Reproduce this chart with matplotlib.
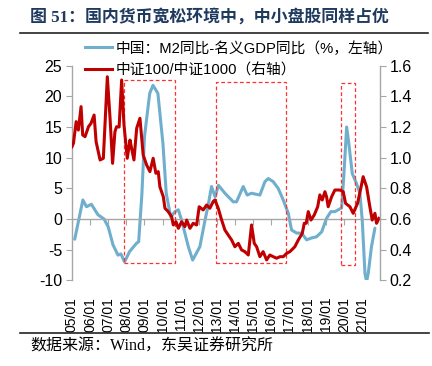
import matplotlib
matplotlib.use("Agg")
import matplotlib.pyplot as plt
from matplotlib.lines import Line2D
from matplotlib.patches import Rectangle

plt.rcParams['font.family'] = ['Liberation Sans', 'Noto Sans CJK SC']
plt.rcParams['axes.unicode_minus'] = False

# M2 yoy minus nominal GDP yoy (%), left axis
m2_gap_x = [2005.15, 2005.6, 2005.8, 2006.07, 2006.43, 2006.77, 2007.0, 2007.26, 2007.54, 2007.7,
            2007.9, 2008.18, 2008.55, 2008.68, 2008.86, 2009.0, 2009.29, 2009.47, 2009.74, 2010.02,
            2010.2, 2010.45, 2010.68, 2010.87, 2011.05, 2011.23, 2011.42, 2011.66, 2012.06, 2012.34,
            2012.5, 2012.7, 2012.9, 2013.08, 2013.44, 2013.9, 2014.08, 2014.45, 2014.67, 2014.91,
            2015.37, 2015.65, 2015.83, 2016.1, 2016.38, 2016.66, 2016.94, 2017.12, 2017.4, 2017.67,
            2017.95, 2018.22, 2018.5, 2018.78, 2019.05, 2019.29, 2019.51, 2019.88, 2020.0, 2020.16,
            2020.28, 2020.47, 2020.7, 2020.89, 2021.02, 2021.17, 2021.26, 2021.35, 2021.53, 2021.72]
m2_gap = [-3.3, 3.1, 2.0, 2.4, 0.7, 0.0, -1.3, -4.2, -5.9, -5.7,
          -7.0, -5.3, -4.0, -3.7, 4.2, 13.4, 20.5, 21.8, 20.5, 12.3,
          4.2, 0.3, 1.2, 1.5, -0.2, -2.3, -4.5, -6.7, -4.5, -0.2,
          2.0, 5.3, 3.6, 5.5, 4.2, 2.8, 2.8, 5.3, 3.9, 4.2,
          3.9, 6.1, 6.6, 6.1, 5.0, 3.1, 0.9, -1.8, -2.3, -2.3,
          -3.4, -3.1, -2.9, -2.1, 0.1, 1.2, 1.2, 1.8, 6.9, 15.0,
          12.3, 7.4, 5.8, 4.2, -0.2, -8.9, -10.2, -8.9, -4.5, -1.5]

# CSI100 / CSI1000, right axis
ratio_x = [2005.0, 2005.08, 2005.23, 2005.35, 2005.5, 2005.59, 2005.72, 2005.91, 2006.05, 2006.22,
           2006.33, 2006.55, 2006.73, 2006.95, 2007.1, 2007.24, 2007.37, 2007.46, 2007.6, 2007.74,
           2007.87, 2008.05, 2008.2, 2008.29, 2008.42, 2008.57, 2008.75, 2008.93, 2009.12, 2009.3,
           2009.48, 2009.63, 2009.76, 2009.85, 2010.04, 2010.13, 2010.31, 2010.5, 2010.59, 2010.74,
           2010.87, 2011.05, 2011.23, 2011.33, 2011.51, 2011.69, 2011.88, 2012.02, 2012.24, 2012.43,
           2012.61, 2012.79, 2012.89, 2013.07, 2013.26, 2013.44, 2013.62, 2013.81, 2013.99, 2014.18,
           2014.36, 2014.54, 2014.73, 2014.91, 2015.06, 2015.19, 2015.37, 2015.55, 2015.74, 2015.92,
           2016.11, 2016.29, 2016.48, 2016.66, 2016.85, 2017.03, 2017.3, 2017.49, 2017.71, 2017.82,
           2017.93, 2018.04, 2018.19, 2018.37, 2018.56, 2018.68, 2018.81, 2018.96, 2019.05, 2019.14,
           2019.33, 2019.51, 2019.79, 2019.97, 2020.1, 2020.34, 2020.52, 2020.76, 2020.94, 2021.07,
           2021.26, 2021.44, 2021.57, 2021.72, 2021.81, 2021.94]
ratio = [1.072, 1.094, 1.235, 1.18, 1.333, 1.148, 1.137, 1.202, 1.224, 1.278,
         1.104, 0.985, 0.996, 1.528, 1.257, 0.963, 1.17, 1.202, 1.2, 1.507,
         1.213, 0.996, 1.115, 1.061, 0.985, 1.192, 1.257, 1.017, 0.952, 0.909,
         0.996, 0.898, 0.909, 0.81, 0.745, 0.67, 0.648, 0.615, 0.561, 0.582,
         0.539, 0.582, 0.55, 0.593, 0.539, 0.572, 0.561, 0.68, 0.659, 0.691,
         0.67, 0.713, 0.724, 0.67, 0.593, 0.528, 0.496, 0.463, 0.419, 0.441,
         0.398, 0.387, 0.365, 0.561, 0.441, 0.419, 0.354, 0.387, 0.333, 0.365,
         0.354, 0.344, 0.354, 0.354, 0.376, 0.387, 0.419, 0.463, 0.507, 0.572,
         0.572, 0.648, 0.593, 0.626, 0.68, 0.757, 0.724, 0.778, 0.745, 0.68,
         0.745, 0.789, 0.789, 0.778, 0.702, 0.68, 0.637, 0.702, 0.8, 0.876,
         0.81, 0.68, 0.593, 0.637, 0.572, 0.604]

# highlighted easing periods (left-axis units)
box_start = [2007.87, 2012.94, 2019.82]
box_end = [2010.69, 2016.82, 2020.6]
box_top = [22.6, 22.4, 22.2]
box_bottom = [-7.2, -7.2, -7.5]

years = list(range(2005, 2022))
year_labels = [f"{y % 100:02d}/01" for y in years]
left_ticks = [-10, -5, 0, 5, 10, 15, 20, 25]
right_ticks = [0.2, 0.4, 0.6, 0.8, 1.0, 1.2, 1.4, 1.6]

blue = '#6FAFCD'
red = '#C00000'
grey = '#A6A6A6'

fig = plt.figure(figsize=(4.32, 3.66), dpi=100)
ax = fig.add_axes((72/432, 1-280.3/366, 308/432, 214.6/366))
ax2 = ax.twinx()

ax.plot(m2_gap_x, m2_gap, color=blue, lw=2.2, solid_capstyle='round')
ax2.plot(ratio_x, ratio, color=red, lw=2.2, solid_joinstyle='round')

for s, e, t, b in zip(box_start, box_end, box_top, box_bottom):
    ax.add_patch(Rectangle((s, b), e - s, t - b, fill=False, edgecolor='#FF3030',
                           linestyle=(0, (3, 2)), lw=0.9, zorder=5))

ax.set_xlim(2005, 2022)
ax.set_ylim(-10, 25)
ax2.set_ylim(0.2, 1.6)

ax.set_yticks(left_ticks)
ax2.set_yticks(right_ticks)
ax2.set_yticklabels([f"{v:.1f}" for v in right_ticks])

for s in ['top', 'right']:
    ax.spines[s].set_visible(False)
for s in ['top', 'left', 'bottom']:
    ax2.spines[s].set_visible(False)
ax.spines['bottom'].set_position(('data', 0))
for sp in [ax.spines['left'], ax.spines['bottom'], ax2.spines['right']]:
    sp.set_color(grey)
    sp.set_linewidth(1.0)

ax.set_xticks(years)
ax.tick_params(axis='x', labelbottom=False, length=4, color=grey, direction='out')
ax.tick_params(axis='y', length=4, color=grey, labelsize=11.5, pad=3)
ax2.tick_params(axis='y', length=4, color=grey, labelsize=11.5, pad=3)

secax = ax.secondary_xaxis(0)
secax.set_xticks(years)
secax.set_xticklabels(year_labels, rotation=90, fontsize=10)
secax.tick_params(length=0, pad=12)
secax.spines['bottom'].set_visible(False)

handles = [Line2D([], [], color=blue, lw=2.2), Line2D([], [], color=red, lw=2.2)]
labels = ['中国：M2同比-名义GDP同比（%，左轴）', '中证100/中证1000（右轴）']
fig.legend(handles, labels, loc='upper left', bbox_to_anchor=(85/432, 1-41/366),
           frameon=False, fontsize=10.6, handlelength=1.8, handletextpad=0.3,
           labelspacing=0.5, borderpad=0, borderaxespad=0)

fig.text(30/432, 1-17/366, '图 51：国内货币宽松环境中，中小盘股同样占优', fontsize=12.2,
         weight='bold', color='#1F3A5F', va='center',
         family=['Liberation Serif', 'Noto Sans CJK SC'])
fig.add_artist(Line2D([20/432, 428/432], [1-33.3/366]*2, color='#222222', lw=1.2))
fig.add_artist(Line2D([20/432, 429/432], [1-332.7/366]*2, color='#222222', lw=1.2))
fig.text(30/432, 1-346.5/366, '数据来源：Wind，东吴证券研究所', fontsize=11.5, va='center',
         family=['Liberation Serif', 'Noto Sans CJK SC'])

fig.savefig('out.png', dpi=100)
